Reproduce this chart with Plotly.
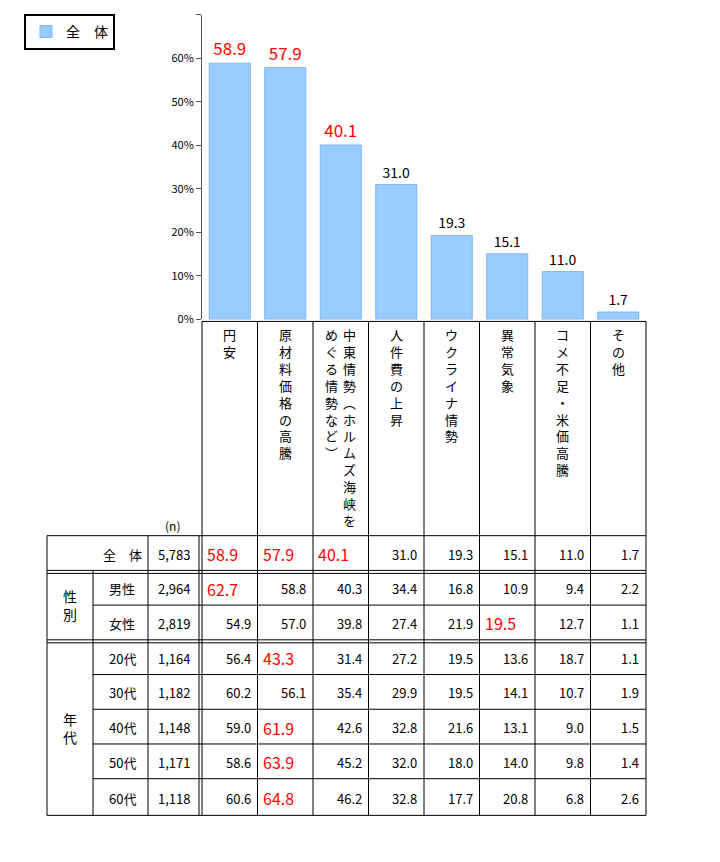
import plotly.graph_objects as go

W, H = 720, 862
FONT = "Noto Sans CJK JP"

categories = ["円安", "原材料価格の高騰", "中東情勢（ホルムズ海峡をめぐる情勢など）",
              "人件費の上昇", "ウクライナ情勢", "異常気象", "コメ不足・米価高騰", "その他"]
header_cols = [["円安"], ["原材料価格の高騰"], ["中東情勢︵ホルムズ海峡を", "めぐる情勢など︶"],
               ["人件費の上昇"], ["ウクライナ情勢"], ["異常気象"], ["コメ不足・米価高騰"], ["その他"]]
overall = [58.9, 57.9, 40.1, 31.0, 19.3, 15.1, 11.0, 1.7]
bar_red = [True, True, True, False, False, False, False, False]

row_labels = ["全　体", "男性", "女性", "20代", "30代", "40代", "50代", "60代"]
row_n = ["5,783", "2,964", "2,819", "1,164", "1,182", "1,148", "1,171", "1,118"]
table = [
    [58.9, 57.9, 40.1, 31.0, 19.3, 15.1, 11.0, 1.7],
    [62.7, 58.8, 40.3, 34.4, 16.8, 10.9, 9.4, 2.2],
    [54.9, 57.0, 39.8, 27.4, 21.9, 19.5, 12.7, 1.1],
    [56.4, 43.3, 31.4, 27.2, 19.5, 13.6, 18.7, 1.1],
    [60.2, 56.1, 35.4, 29.9, 19.5, 14.1, 10.7, 1.9],
    [59.0, 61.9, 42.6, 32.8, 21.6, 13.1, 9.0, 1.5],
    [58.6, 63.9, 45.2, 32.0, 18.0, 14.0, 9.8, 1.4],
    [60.6, 64.8, 46.2, 32.8, 17.7, 20.8, 6.8, 2.6],
]
red_cells = [(0, 0), (0, 1), (0, 2), (1, 0), (2, 5), (3, 1), (5, 1), (6, 1), (7, 1)]

# page body adds an 8px margin, so shift everything by it
OFF = 8
px = lambda x: (x - OFF) / W
py = lambda y: 1 - (y - OFF) / H

x0, x1 = 202, 646
cw = (x1 - x0) / 8
y_zero, y_top = 322, 15
row_y = [540, 575, 610, 645, 680, 715, 750, 785, 822]

fig = go.Figure()
fig.add_trace(go.Bar(
    x=list(range(8)), y=overall, name="全　体", width=0.74,
    marker=dict(color="#99ccff", line=dict(color="#7fb8f0", width=1)),
    text=[f"{v:.1f}" for v in overall], textposition="outside", cliponaxis=False,
    textfont=dict(family=FONT, size=[17 if r else 14 for r in bar_red],
                  color=["red" if r else "black" for r in bar_red]),
))

shapes = []
def line(xa, ya, xb, yb, w=1):
    shapes.append(dict(type="line", xref="paper", yref="paper", x0=px(xa), y0=py(ya),
                       x1=px(xb), y1=py(yb), line=dict(color="black", width=w)))

for i in range(9):
    line(x0 + i * cw, y_zero + 2, x0 + i * cw, row_y[0])
line(x0, y_zero + 2, x1, y_zero + 2)
for k, y in enumerate(row_y):
    xs = 47 if k in (0, 1, 3, 8) else 93
    line(xs, y, x1, y)
    if k in (1, 3):
        line(47, y + 3, x1, y + 3)
line(47, row_y[0], 47, row_y[-1])
line(93, row_y[1], 93, row_y[-1])
line(148, row_y[0], 148, row_y[-1])
line(x0, row_y[0], x0, row_y[-1])
line(x0 - 3, row_y[0], x0 - 3, row_y[-1])
for i in range(1, 9):
    line(x0 + i * cw, row_y[0], x0 + i * cw, row_y[-1])

ann = []
def text(x, y, s, size=13, color="black", xanchor="center", yanchor="middle"):
    ann.append(dict(x=px(x), y=py(y), xref="paper", yref="paper", text=s, showarrow=False,
                    xanchor=xanchor, yanchor=yanchor, font=dict(family=FONT, size=size, color=color)))

for i, cols in enumerate(header_cols):
    cx = x0 + (i + 0.5) * cw
    offs = [0] if len(cols) == 1 else [9, -9]
    for col, o in zip(cols, offs):
        text(cx + o, 326, "<br>".join(col), size=13, yanchor="top")
text(172, 530, "(n)", size=12)

for r in range(8):
    cy = (row_y[r] + row_y[r + 1]) / 2 + 1
    text(122, cy, row_labels[r])
    text(174, cy, row_n[r], size=13)
    for c in range(8):
        if (r, c) in red_cells:
            text(x0 + c * cw + 3, cy, f"{table[r][c]:.1f}", size=16, color="red", xanchor="left")
        else:
            text(x0 + (c + 1) * cw - 5, cy, f"{table[r][c]:.1f}", size=13, xanchor="right")
text(70, (row_y[1] + row_y[3]) / 2, "性<br>別", size=14)
text(70, (row_y[3] + row_y[8]) / 2, "年<br>代", size=14)

fig.update_layout(
    width=W, height=H, margin=dict(l=0, r=0, t=0, b=0),
    plot_bgcolor="white", paper_bgcolor="white",
    font=dict(family=FONT, color="black"),
    showlegend=True,
    legend=dict(x=px(24), y=py(14), xanchor="left", yanchor="top", bordercolor="black",
                borderwidth=2, font=dict(size=14), itemwidth=30, bgcolor="white"),
    xaxis=dict(domain=[px(x0), px(x1)], range=[-0.5, 7.5], showticklabels=False,
               showgrid=False, zeroline=False, showline=False, ticks=""),
    yaxis=dict(domain=[py(y_zero), py(y_top)], range=[0, 70], dtick=10, ticksuffix="%",
               showgrid=False, zeroline=False, showline=True, linecolor="#555",
               ticks="outside", ticklen=5, tickcolor="#555", tickfont=dict(size=11)),
    shapes=shapes, annotations=ann, bargap=0.26,
)

fig.write_html("out.html")
